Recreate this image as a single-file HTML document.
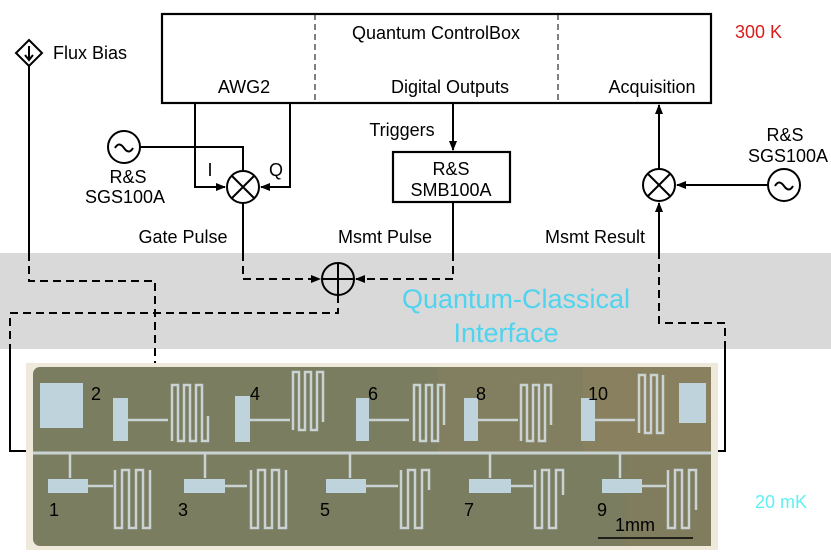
<!DOCTYPE html>
<html><head><style>body{margin:0;background:#fff}svg{display:block;font-family:"Liberation Sans",sans-serif}</style></head><body>
<svg width="831" height="553" viewBox="0 0 831 553" xmlns="http://www.w3.org/2000/svg">
<defs><marker id="a" markerWidth="10" markerHeight="8" refX="9" refY="4" orient="auto" markerUnits="userSpaceOnUse"><path d="M0,0L10,4L0,8z" fill="#000"/></marker></defs>
<rect x="0" y="253" width="831" height="96" fill="#d9d9d9"/>
<text x="516" y="308" font-size="27" fill="#4fd3ef" text-anchor="middle">Quantum-Classical</text>
<text x="506" y="342" font-size="27" fill="#4fd3ef" text-anchor="middle">Interface</text>
<g fill="none" stroke="#000" stroke-width="2.2">
<rect x="162" y="14" width="549" height="89"/>
<rect x="393" y="152" width="117" height="50"/>
</g>
<g stroke="#000" stroke-width="1" stroke-dasharray="6,4"><line x1="315" y1="14" x2="315" y2="103"/><line x1="558" y1="14" x2="558" y2="103"/></g>
<g font-size="18" fill="#000" text-anchor="middle">
<text x="436" y="39">Quantum ControlBox</text>
<text x="244" y="93">AWG2</text>
<text x="450" y="93">Digital Outputs</text>
<text x="652" y="93">Acquisition</text>
<text x="451" y="175">R&amp;S</text><text x="451" y="196">SMB100A</text>
<text x="402" y="136">Triggers</text>
<text x="128" y="183">R&amp;S</text><text x="125" y="203">SGS100A</text>
<text x="785" y="141">R&amp;S</text><text x="788" y="162">SGS100A</text>
<text x="183" y="243">Gate Pulse</text>
<text x="385" y="243">Msmt Pulse</text>
<text x="595" y="243">Msmt Result</text>
<text x="210" y="176">I</text><text x="276" y="176">Q</text>
<text x="90" y="59">Flux Bias</text>
</g>
<text x="735" y="38" font-size="18" fill="#d81c1c">300 K</text>
<text x="755" y="508" font-size="18" fill="#5ff0f0">20 mK</text>
<g fill="none" stroke="#000" stroke-width="2">
<path d="M29,40L42,53L29,66L16,53z"/>
<path d="M29,46V59M25,55L29,60L33,55"/>
<path d="M29,66V253"/>
<circle cx="124" cy="147" r="16"/><path d="M115,148q4,-7 9,0t9,0"/>
<path d="M140,147H243V171"/>
<circle cx="243" cy="187" r="16"/><path d="M232,176L254,198M254,176L232,198"/>
<path d="M195,103V187H225" marker-end="url(#a)"/>
<path d="M290,103V187H261" marker-end="url(#a)"/>
<path d="M243,203V253"/>
<path d="M453,103V150" marker-end="url(#a)"/>
<path d="M453,202V253"/>
<circle cx="338" cy="279" r="16"/><path d="M322,279H354M338,263V295"/>
<circle cx="659" cy="185" r="16"/><path d="M648,174L670,196M670,174L648,196"/>
<path d="M659,169V105" marker-end="url(#a)"/>
<circle cx="784" cy="185" r="16"/><path d="M775,186q4,-7 9,0t9,0"/>
<path d="M768,185H677" marker-end="url(#a)"/>
<path d="M659,253V203" marker-end="url(#a)"/>
<path d="M10,349V451H35"/>
<path d="M725,349V451H712"/>
</g>
<g fill="none" stroke="#000" stroke-width="2" stroke-dasharray="8,5">
<path d="M29,253V281H155V363"/>
<path d="M243,253V279H320" marker-end="url(#a)"/>
<path d="M453,253V279H356" marker-end="url(#a)"/>
<path d="M338,295V313H10V349"/>
<path d="M725,349V323H659V253"/>
</g>
<rect x="26" y="363" width="692" height="187" fill="#efe9db"/>
<rect x="33" y="367" width="678" height="179" rx="7" fill="#7a7d5f"/>
<rect x="438" y="367" width="145" height="86" fill="#827f60"/>
<rect x="583" y="367" width="128" height="86" fill="#88805e"/>
<rect x="626" y="455" width="85" height="91" fill="#807c5e"/>
<g fill="none" stroke="#c9d3d3" stroke-width="3">
<path d="M33,453H711"/>
</g>
<g fill="none" stroke="#c9d3d3" stroke-width="2.5">
<path d="M172,441V385h6v56h6v-56h6v56h6v-56h6v56h6v-25"/>
<path d="M293,430V372h6v58h6v-58h6v58h6v-58h6v50"/>
<path d="M414,441V385h6v56h6v-56h6v56h6v-56h6v40"/>
<path d="M521,441V385h6v56h6v-56h6v56h6v-56h6v40"/>
<path d="M639,433V375h6v58h6v-58h6v58h6v-58"/>
<path d="M115,470V528h7v-58h7v58h7v-58h7v58h7v-58"/>
<path d="M251,470V528h7v-58h7v58h7v-58h7v58h7v-58"/>
<path d="M401,470V528h7v-58h7v58h7v-58h7v20"/>
<path d="M535,470V528h7v-58h7v58h7v-58h7v25"/>
<path d="M668,470V528h7v-58h7v58h7v-58h7v40"/>
<path d="M128,420h40M250,420h40M369,420h40M478,420h40M595,420h40"/>
<path d="M88,486h25M225,486h22M366,486h32M511,486h22M642,486h24"/>
<path d="M70,453v25M205,453v25M350,453v25M490,453v25M620,453v25"/>
</g>
<g fill="#bfd3dc"><rect x="40" y="383" width="43" height="45"/><rect x="679" y="383" width="27" height="40"/><rect x="113" y="398" width="15" height="43"/><rect x="235" y="396" width="15" height="46"/><rect x="356" y="398" width="13" height="43"/><rect x="464" y="398" width="14" height="43"/><rect x="581" y="398" width="14" height="43"/><rect x="48" y="479" width="40" height="14"/><rect x="184" y="479" width="41" height="14"/><rect x="326" y="479" width="40" height="14"/><rect x="469" y="479" width="42" height="14"/><rect x="602" y="479" width="40" height="14"/></g>
<g font-size="18" fill="#000">
<text x="91" y="400">2</text><text x="250" y="400">4</text><text x="368" y="400">6</text><text x="476" y="400">8</text><text x="588" y="400">10</text>
<text x="49" y="516">1</text><text x="178" y="516">3</text><text x="320" y="516">5</text><text x="464" y="516">7</text><text x="597" y="516">9</text>
<text x="615" y="531">1mm</text>
</g>
<line x1="598" y1="538" x2="693" y2="538" stroke="#000" stroke-width="1.5"/>
</svg>
</body></html>
